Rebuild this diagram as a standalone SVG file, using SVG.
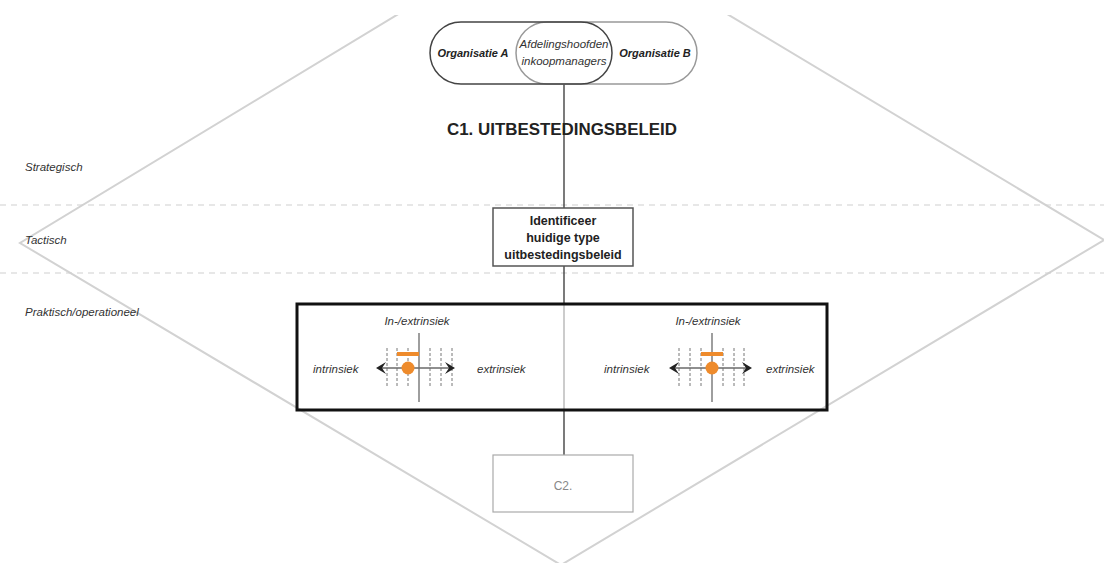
<svg xmlns="http://www.w3.org/2000/svg" width="1104" height="563" viewBox="0 0 1104 563">
  <style>
    .lbl { font-family: "Liberation Sans", Arial, sans-serif; font-size: 11.5px; font-style: italic; fill: #333; }
    .bold { font-family: "Liberation Sans", Arial, sans-serif; font-weight: bold; fill: #222; }
    .zone { stroke: #cfcfcf; stroke-width: 1.2; stroke-dasharray: 6 5; fill: none; }
    .axis { stroke: #6a6a6a; stroke-width: 1.3; fill: none; }
    .tick { stroke: #777; stroke-width: 1; stroke-dasharray: 3 2; fill: none; }
    .mark { fill: #ee8b2c; }
    .link { stroke: #333; stroke-width: 1.3; fill: none; }
  </style>
  <defs>
    <clipPath id="clipTop"><rect x="0" y="15" width="1104" height="548"/></clipPath>
    <path id="headR" d="M0 0 L-10 -6 L-6 0 L-10 6 Z" fill="#222"/>
    <path id="headL" d="M0 0 L10 -6 L6 0 L10 6 Z" fill="#222"/>
  </defs>
  <rect width="1104" height="563" fill="#fff"/>

  <!-- level diamond and zone separators -->
  <g id="background">
    <polygon points="562,-85 1104,240 561,565 20,243" fill="none" stroke="#d2d2d2" stroke-width="2" clip-path="url(#clipTop)"/>
    <line class="zone" x1="0" y1="205" x2="1104" y2="205"/>
    <line class="zone" x1="0" y1="273" x2="1104" y2="273"/>
    <text class="lbl" x="25" y="171">Strategisch</text>
    <text class="lbl" x="25" y="244">Tactisch</text>
    <text class="lbl" x="25" y="316">Praktisch/operationeel</text>
  </g>

  <!-- connectors -->
  <g id="connectors">
    <line class="link" x1="564" y1="84" x2="564" y2="208"/>
    <line class="link" x1="564" y1="266" x2="564" y2="304"/>
    <line x1="564" y1="304" x2="564" y2="410" stroke="#999" stroke-width="1"/>
    <line class="link" x1="564" y1="410" x2="564" y2="455"/>
  </g>

  <!-- stakeholders -->
  <g id="stakeholders">
    <rect x="516" y="22" width="181" height="62" rx="31" ry="31" fill="none" stroke="#999" stroke-width="1.5"/>
    <rect x="430" y="22" width="182" height="62" rx="31" ry="31" fill="none" stroke="#444" stroke-width="1.5"/>
    <text class="bold" x="473" y="57" font-size="11" font-style="italic" text-anchor="middle">Organisatie A</text>
    <text class="bold" x="655" y="57" font-size="11" font-style="italic" text-anchor="middle">Organisatie B</text>
    <text class="lbl" x="564" y="48" font-size="12" text-anchor="middle">Afdelingshoofden</text>
    <text class="lbl" x="564" y="65" font-size="12" text-anchor="middle">inkoopmanagers</text>
  </g>

  <!-- title -->
  <g id="title">
    <text class="bold" x="562" y="135" font-size="17" text-anchor="middle" textLength="230" lengthAdjust="spacingAndGlyphs">C1. UITBESTEDINGSBELEID</text>
  </g>

  <!-- tactical step -->
  <g id="identify">
    <rect x="493" y="208" width="140" height="58" fill="#fff" stroke="#555" stroke-width="1.5"/>
    <text class="bold" x="563" y="225" font-size="12.5" text-anchor="middle">Identificeer</text>
    <text class="bold" x="563" y="242" font-size="12.5" text-anchor="middle">huidige type</text>
    <text class="bold" x="563" y="259" font-size="12.5" text-anchor="middle">uitbestedingsbeleid</text>
  </g>

  <!-- operational scales -->
  <g id="scales">
    <rect x="297" y="304" width="530" height="106" fill="none" stroke="#111" stroke-width="3"/>

    <g id="scale-left">
      <text class="lbl" x="417" y="325" font-size="12.5" text-anchor="middle">In-/extrinsiek</text>
      <line class="tick" x1="387" y1="348" x2="387" y2="388"/>
      <line class="tick" x1="397" y1="348" x2="397" y2="388"/>
      <line class="tick" x1="408" y1="348" x2="408" y2="388"/>
      <line class="tick" x1="430" y1="348" x2="430" y2="388"/>
      <line class="tick" x1="441" y1="348" x2="441" y2="388"/>
      <line class="tick" x1="452" y1="348" x2="452" y2="388"/>
      <line class="axis" x1="419" y1="333" x2="419" y2="402"/>
      <line class="axis" x1="380" y1="368" x2="450" y2="368"/>
      <use href="#headL" x="376" y="368"/>
      <use href="#headR" x="455" y="368"/>
      <rect class="mark" x="397" y="352" width="22" height="4"/>
      <circle class="mark" cx="408" cy="368" r="6.5"/>
      <text class="lbl" x="313" y="373" font-size="12">intrinsiek</text>
      <text class="lbl" x="477" y="373" font-size="12">extrinsiek</text>
    </g>

    <g id="scale-right">
      <text class="lbl" x="708" y="325" font-size="12.5" text-anchor="middle">In-/extrinsiek</text>
      <line class="tick" x1="679" y1="348" x2="679" y2="388"/>
      <line class="tick" x1="690" y1="348" x2="690" y2="388"/>
      <line class="tick" x1="701" y1="348" x2="701" y2="388"/>
      <line class="tick" x1="723" y1="348" x2="723" y2="388"/>
      <line class="tick" x1="734" y1="348" x2="734" y2="388"/>
      <line class="tick" x1="744" y1="348" x2="744" y2="388"/>
      <line class="axis" x1="712" y1="333" x2="712" y2="402"/>
      <line class="axis" x1="673" y1="368" x2="747" y2="368"/>
      <use href="#headL" x="669" y="368"/>
      <use href="#headR" x="752" y="368"/>
      <rect class="mark" x="701" y="352" width="22" height="4"/>
      <circle class="mark" cx="712" cy="368" r="6.5"/>
      <text class="lbl" x="604" y="373" font-size="12">intrinsiek</text>
      <text class="lbl" x="766" y="373" font-size="12">extrinsiek</text>
    </g>
  </g>

  <!-- next step -->
  <g id="c2">
    <rect x="493" y="455" width="140" height="57" fill="#fff" stroke="#aaa" stroke-width="1.2"/>
    <text x="563" y="490" font-family="Liberation Sans, Arial, sans-serif" font-size="12" fill="#888" text-anchor="middle">C2.</text>
  </g>
</svg>
